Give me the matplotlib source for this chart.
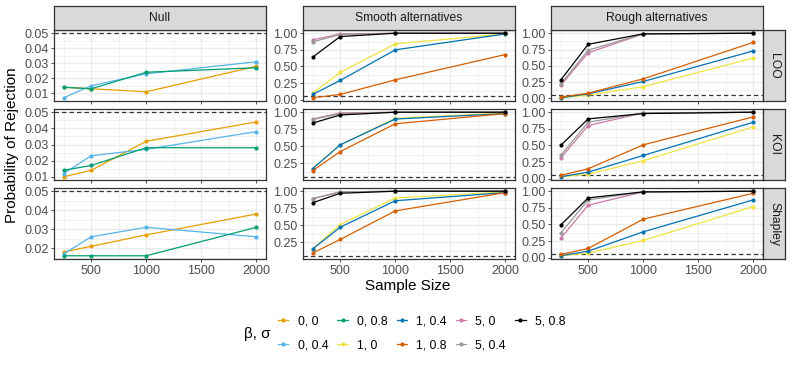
import numpy as np
import matplotlib
matplotlib.use("Agg")
import matplotlib.pyplot as plt
from matplotlib.lines import Line2D

plt.rcParams['font.family'] = ['Liberation Sans', 'DejaVu Sans']

sample_sizes = [250, 500, 1000, 2000]
columns = ["Null", "Smooth alternatives", "Rough alternatives"]
rows = ["LOO", "KOI", "Shapley"]
series_labels = ["0, 0", "0, 0.4", "0, 0.8", "1, 0", "1, 0.4", "1, 0.8", "5, 0", "5, 0.4", "5, 0.8"]
series_colors = ["#E69F00", "#56B4E9", "#009E73", "#F0E442", "#0072B2", "#D55E00", "#CC79A7", "#999999", "#000000"]

# Null column
null_loo = {"0, 0": [0.014, 0.013, 0.011, 0.028],
            "0, 0.4": [0.007, 0.015, 0.023, 0.031],
            "0, 0.8": [0.014, 0.013, 0.024, 0.027]}
null_koi = {"0, 0": [0.010, 0.014, 0.032, 0.044],
            "0, 0.4": [0.012, 0.023, 0.027, 0.038],
            "0, 0.8": [0.014, 0.017, 0.028, 0.028]}
null_shap = {"0, 0": [0.018, 0.021, 0.027, 0.038],
             "0, 0.4": [0.017, 0.026, 0.031, 0.026],
             "0, 0.8": [0.016, 0.016, 0.016, 0.031]}

# Smooth alternatives
smooth_loo = {"1, 0": [0.10, 0.41, 0.84, 0.99],
              "1, 0.4": [0.08, 0.29, 0.75, 0.99],
              "1, 0.8": [0.03, 0.08, 0.30, 0.68],
              "5, 0": [0.90, 0.99, 1.00, 1.00],
              "5, 0.4": [0.87, 0.98, 1.00, 1.00],
              "5, 0.8": [0.64, 0.95, 1.00, 1.00]}
smooth_koi = {"1, 0": [0.17, 0.52, 0.91, 0.99],
              "1, 0.4": [0.17, 0.52, 0.90, 0.98],
              "1, 0.8": [0.14, 0.42, 0.83, 0.98],
              "5, 0": [0.90, 0.99, 1.00, 1.00],
              "5, 0.4": [0.89, 0.98, 1.00, 1.00],
              "5, 0.8": [0.84, 0.96, 1.00, 1.00]}
smooth_shap = {"1, 0": [0.15, 0.51, 0.90, 0.99],
               "1, 0.4": [0.15, 0.47, 0.86, 0.98],
               "1, 0.8": [0.09, 0.29, 0.71, 0.98],
               "5, 0": [0.89, 0.99, 1.00, 1.00],
               "5, 0.4": [0.89, 0.99, 1.00, 1.00],
               "5, 0.8": [0.83, 0.97, 1.00, 1.00]}

# Rough alternatives
rough_loo = {"1, 0": [0.01, 0.05, 0.18, 0.62],
             "1, 0.4": [0.01, 0.07, 0.26, 0.73],
             "1, 0.8": [0.02, 0.08, 0.30, 0.86],
             "5, 0": [0.20, 0.70, 0.99, 1.00],
             "5, 0.4": [0.22, 0.74, 0.99, 1.00],
             "5, 0.8": [0.28, 0.83, 0.99, 1.00]}
rough_koi = {"1, 0": [0.03, 0.07, 0.27, 0.78],
             "1, 0.4": [0.03, 0.10, 0.35, 0.85],
             "1, 0.8": [0.05, 0.15, 0.51, 0.93],
             "5, 0": [0.31, 0.80, 0.99, 1.00],
             "5, 0.4": [0.35, 0.85, 0.99, 1.00],
             "5, 0.8": [0.50, 0.90, 0.98, 1.00]}
rough_shap = {"1, 0": [0.03, 0.07, 0.26, 0.77],
              "1, 0.4": [0.03, 0.10, 0.39, 0.87],
              "1, 0.8": [0.05, 0.14, 0.58, 0.97],
              "5, 0": [0.29, 0.79, 0.99, 1.00],
              "5, 0.4": [0.37, 0.87, 0.99, 1.00],
              "5, 0.8": [0.49, 0.90, 0.99, 1.00]}

panel_data = [[null_loo, smooth_loo, rough_loo],
              [null_koi, smooth_koi, rough_koi],
              [null_shap, smooth_shap, rough_shap]]
alpha_level = 0.05
x_ticks = [500, 1000, 1500, 2000]

W, H = 793, 366
fig = plt.figure(figsize=(W / 100, H / 100), dpi=100)

col_px = [(54, 266), (303, 515), (551, 763)]
row_px = [(30, 101), (109, 180), (188, 259)]
strip_top = 6
rstrip_w = 22

def px_axes(x0, x1, y0, y1):
    return [x0 / W, 1 - y1 / H, (x1 - x0) / W, (y1 - y0) / H]

color_map = dict(zip(series_labels, series_colors))
grid_c = "#EBEBEB"
tick_c = "#4D4D4D"

for r in range(3):
    for c in range(3):
        x0, x1 = col_px[c]
        y0, y1 = row_px[r]
        ax = fig.add_axes(px_axes(x0, x1, y0, y1))
        data = panel_data[r][c]
        allv = [alpha_level]
        for lab in series_labels:
            if lab in data:
                ax.plot(sample_sizes, data[lab], color=color_map[lab], lw=0.9,
                        marker='o', ms=3.0, mec='none', zorder=3)
                allv += data[lab]
        ax.axhline(alpha_level, color="#333333", lw=0.9, ls=(0, (3.5, 2.5)), zorder=2)
        lo, hi = min(allv), max(allv)
        pad = (hi - lo) * 0.05
        ax.set_ylim(lo - pad, hi + pad)
        ax.set_xlim(250 - 87.5, 2000 + 87.5)
        if c == 0:
            step = 0.01
            cand = np.round(np.arange(0.0, 0.0601, step), 4)
        else:
            step = 0.25
            cand = np.round(np.arange(0.0, 1.001, step), 4)
        yt = [t for t in cand if lo - pad - 1e-9 <= t <= hi + pad + 1e-9]
        ax.set_yticks(yt)
        ax.set_yticklabels(["%.2f" % t for t in yt])
        ymin_t = [t + step / 2 for t in np.append(cand, cand[0] - step) if lo - pad <= t + step / 2 <= hi + pad]
        ax.set_yticks(ymin_t, minor=True)
        ax.set_xticks(x_ticks)
        ax.set_xticks([250, 750, 1250, 1750], minor=True)
        ax.grid(True, which='major', color=grid_c, lw=0.9, zorder=0)
        ax.grid(True, which='minor', color=grid_c, lw=0.45, zorder=0)
        ax.set_axisbelow(True)
        ax.tick_params(axis='both', which='major', labelsize=9, colors="#333333",
                       labelcolor=tick_c, length=2.5, width=0.6, pad=1.5)
        ax.tick_params(axis='both', which='minor', length=0)
        if r < 2:
            ax.set_xticklabels([])
        for sp in ax.spines.values():
            sp.set_color("#333333")
            sp.set_linewidth(0.9)
        # top strip
        if r == 0:
            sax = fig.add_axes(px_axes(x0, x1, strip_top, y0))
            sax.set_xticks([]); sax.set_yticks([])
            sax.set_facecolor("#D9D9D9")
            for sp in sax.spines.values():
                sp.set_color("#333333"); sp.set_linewidth(0.9)
            sax.text(0.5, 0.5, columns[c], ha='center', va='center', fontsize=8.7, color="#1A1A1A",
                     transform=sax.transAxes)
        if c == 2:
            sax = fig.add_axes(px_axes(x1, x1 + rstrip_w, y0, y1))
            sax.set_xticks([]); sax.set_yticks([])
            sax.set_facecolor("#D9D9D9")
            for sp in sax.spines.values():
                sp.set_color("#333333"); sp.set_linewidth(0.9)
            sax.text(0.5, 0.5, rows[r], ha='center', va='center', fontsize=8.7, color="#1A1A1A",
                     rotation=-90, transform=sax.transAxes)

fig.text(12 / W, 1 - 145 / H, "Probability of Rejection", rotation=90, ha='center', va='center',
         fontsize=11, color='black')
fig.text(408 / W, 1 - 286 / H, "Sample Size", ha='center', va='center', fontsize=11, color='black')

handles = [Line2D([0], [0], color=col, lw=0.9, marker='o', ms=3.0, mec='none') for col in series_colors]
fig.text(257 / W, 1 - 334 / H, "β, σ", ha='center', va='center', fontsize=11)
leg = fig.legend(handles, series_labels, ncol=5, loc='center left',
                 bbox_to_anchor=(278 / W, 1 - 333.5 / H), frameon=False, fontsize=8.8,
                 handlelength=0.85, handletextpad=0.75, columnspacing=0.75, labelspacing=0.95,
                 borderpad=0, borderaxespad=0)

fig.savefig("out.png", dpi=100)
